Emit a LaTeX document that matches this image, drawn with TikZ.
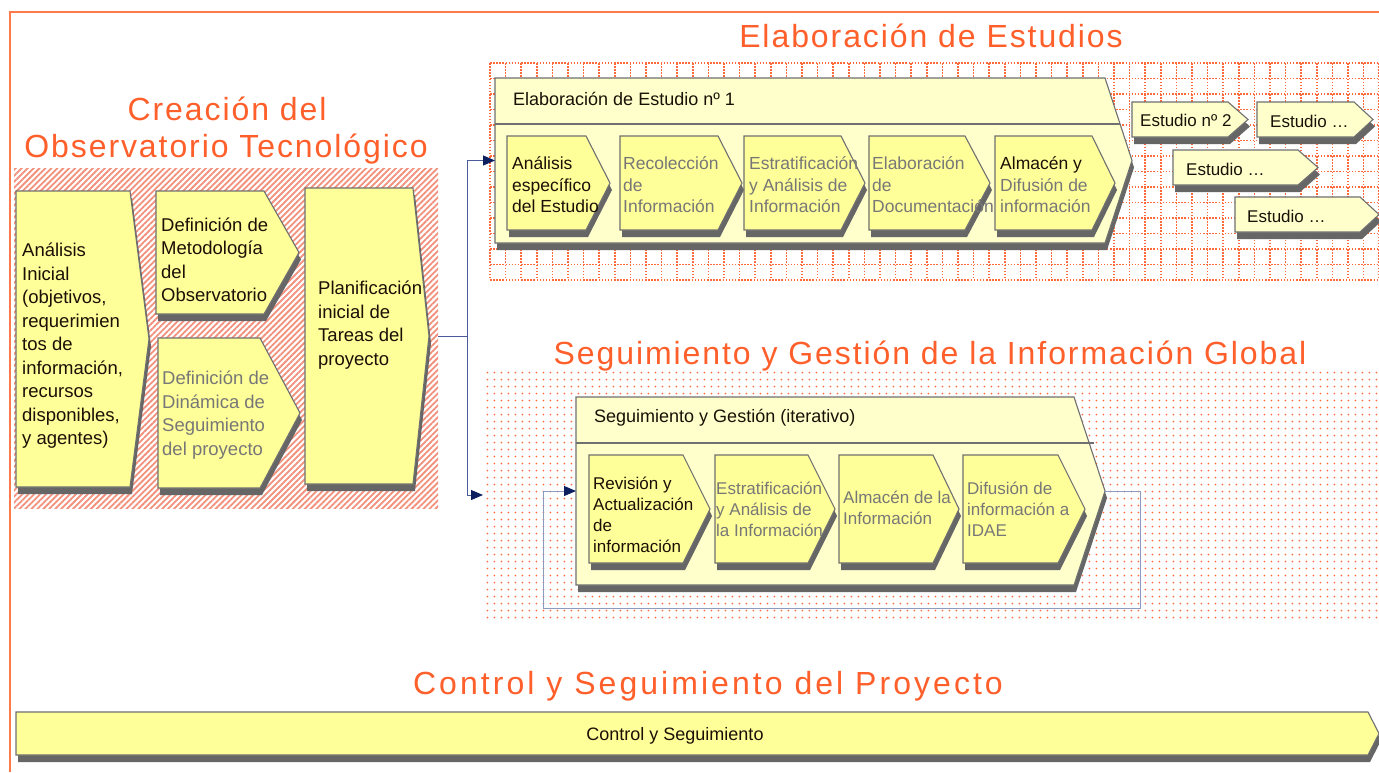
\documentclass[tikz,border=0pt]{standalone}
\usepackage{fontspec}
\setmainfont{Liberation Sans}
\newfontfamily\titlefont[LetterSpace=6]{Liberation Sans}
\newfontfamily\titlefontw[LetterSpace=9.5]{Liberation Sans}
\usetikzlibrary{arrows.meta,patterns.meta,calc}
\definecolor{yel}{HTML}{FFFF99}
\definecolor{lyel}{HTML}{FFFFCC}
\definecolor{bord}{HTML}{707070}
\definecolor{shad}{HTML}{666666}
\definecolor{ttl}{HTML}{FF5F2A}
\definecolor{framec}{HTML}{FF7A4A}
\definecolor{hatchc}{HTML}{F2907C}
\definecolor{dotc}{HTML}{FF6A3A}
\definecolor{blk}{HTML}{1A1006}
\definecolor{gry}{HTML}{777777}
\definecolor{lnc}{HTML}{4A5A9A}
\definecolor{arc}{HTML}{0C2060}
\definecolor{loopc}{HTML}{8C9BBF}
% chevron box: [fill]{name}{x left}{y top}{x top-right}{x point}{y bottom}
\newcommand\chev[7][yel]{%
  \pgfmathsetmacro\cmid{(#4+#7)/2}%
  \fill[shad] (#3+2,#4+7) -- (#5+2,#4+7) -- (#6+2,\cmid+7) -- (#5+2,#7+7) -- (#3+2,#7+7) -- cycle;
  \filldraw[fill=#1, draw=bord, line width=1.1pt] (#3,#4) -- (#5,#4) -- (#6,\cmid) -- (#5,#7) -- (#3,#7) -- cycle;
  \coordinate (#2-w) at (#3,\cmid);
  \coordinate (#2-e) at (#6,\cmid);
}
\tikzset{
  ta/.style={anchor=west, inner sep=0pt, align=left, font=\fontsize{18.5}{23.5}\selectfont, text=blk},
  tb/.style={anchor=west, inner sep=0pt, align=left, font=\fontsize{17.5}{21.5}\selectfont, text=blk},
  tc/.style={anchor=west, inner sep=0pt, align=left, font=\fontsize{17}{21}\selectfont, text=blk},
  th/.style={anchor=west, inner sep=0pt, font=\fontsize{18}{22}\selectfont, text=blk},
  te/.style={anchor=west, inner sep=0pt, font=\fontsize{17}{21}\selectfont, text=blk},
  gtext/.style={text=gry},
  ttlstyle/.style={anchor=base, inner sep=0pt, text=ttl, font=\titlefont\fontsize{32}{38}\selectfont},
  conn/.style={draw=lnc, line width=1pt},
  arrowtip/.style={-{Triangle[length=12pt,width=10pt,color=arc]}},
  loopl/.style={draw=loopc, line width=1pt},
  gridl/.style={draw=dotc, line width=1.5pt, dash pattern=on 1.5pt off 1.6pt},
}
\begin{document}
\begin{tikzpicture}[x=1pt,y=-1pt]
\useasboundingbox (0,0) rectangle (1379,772);
\fill[white] (0,0) rectangle (1379,772);
% outer frame
\draw[draw=framec, line width=1.5pt] (10,772) -- (10,12) -- (1379,12);
% backgrounds
\fill[pattern={Lines[angle=45,distance=4.2pt,line width=1.8pt]}, pattern color=hatchc] (14,168) rectangle (438,508);
\foreach \k in {0,...,14} \draw[gridl] (490,{63+15.5*\k}) -- (1379,{63+15.5*\k});
\foreach \k in {0,...,57} \draw[gridl] ({490+15.6*\k},63) -- ({490+15.6*\k},280);
\fill[pattern={Dots[distance=7.4pt,radius=1.05pt]}, pattern color=dotc] (483,370) rectangle (1379,620);
% titles
\node[ttlstyle] (t1a) at (227,120) {Creación del};
\node[ttlstyle] (t1b) at (226,157) {Observatorio Tecnológico};
\node[ttlstyle] (t2) at (931,47) {Elaboración de Estudios};
\node[ttlstyle] (t3) at (930,364) {Seguimiento y Gestión de la Información Global};
\node[ttlstyle, font=\titlefontw\fontsize{32}{38}\selectfont] (t4) at (708,694) {Control y Seguimiento del Proyecto};
% Creacion boxes
\chev{ana}{16}{191}{130}{149}{487}
\node[ta] (anat) at (22,346) {Análisis\\Inicial\\(objetivos,\\requerimien\\tos de\\información,\\recursos\\disponibles,\\y agentes)};
\chev{defm}{156}{191}{264}{299}{314}
\node[ta] (defmt) at (161,260) {Definición de\\Metodología\\del\\Observatorio};
\chev{defd}{158}{338}{260}{300}{488}
\node[ta, gtext] (defdt) at (162,415) {Definición de\\Dinámica de\\Seguimiento\\del proyecto};
\chev{plan}{305}{188}{413}{429}{484}
\node[ta] (plant) at (318,325) {Planificación\\inicial de\\Tareas del\\proyecto};
% Elaboracion
\chev[lyel]{elab}{495}{78}{1105}{1132}{243}
\draw[draw=bord, line width=1.1pt] (495,124) -- (1120,124);
\node[th] (elabt) at (513,99) {Elaboración de Estudio nº 1};
\chev{e1}{507}{136}{586}{610}{230}
\node[tb] (e1t) at (512,185) {Análisis\\específico\\del Estudio};
\chev{e2}{620}{136}{718}{742}{230}
\node[tb, gtext] (e2t) at (623,185) {Recolección\\de\\Información};
\chev{e3}{744}{136}{841}{865}{230}
\node[tb, gtext] (e3t) at (749,185) {Estratificación\\y Análisis de\\Información};
\chev{e4}{869}{136}{965}{990}{230}
\node[tb, gtext] (e4t) at (872,185) {Elaboración\\de\\Documentación};
\chev{e5}{995}{136}{1092}{1115}{230}
\node[tb, gtext] (e5t) at (1000,185) {{\color{blk}Almacén y}\\Difusión de\\información};
% Estudio boxes
\chev[lyel]{st2}{1132}{102}{1228}{1248}{137}
\node[te] (st2t) at (1140,120) {Estudio nº 2};
\chev[lyel]{st3}{1257}{102}{1354}{1373}{137}
\node[te] (st3t) at (1270,121) {Estudio …};
\chev[lyel]{st4}{1173}{150}{1298}{1318}{185}
\node[te] (st4t) at (1186,169) {Estudio …};
\chev[lyel]{st5}{1235}{197}{1360}{1379}{232}
\node[te] (st5t) at (1247,216) {Estudio …};
% Seguimiento
\chev[lyel]{seg}{576}{397}{1074}{1105}{585}
\draw[draw=bord, line width=1.1pt] (576,443) -- (1094,443);
\node[th] (segt) at (594,418) {Seguimiento y Gestión (iterativo)};
\chev{s1}{589}{455}{683}{710}{563}
\node[tc] (s1t) at (593,515) {Revisión y\\Actualización\\de\\información};
\chev{s2}{715}{455}{808}{835}{563}
\node[tc, gtext] (s2t) at (716,509) {Estratificación\\y Análisis de\\la Información};
\chev{s3}{839}{455}{933}{959}{563}
\node[tc, gtext] (s3t) at (843,508) {Almacén de la\\Información};
\chev{s4}{963}{455}{1058}{1085}{563}
\node[tc, gtext] (s4t) at (967,509) {Difusión de\\información a\\IDAE};
% connectors
\path (plan-e) ++(38,0) coordinate (split);
\coordinate (segin) at (483,495);
\draw[conn] ($(plan-e)+(9,0)$) -- (split);
\draw[conn, arrowtip] (split) |- (elab-w);
\draw[conn, arrowtip] (split) |- (segin);
\draw[loopl, arrowtip] (seg-e) -- ++(35,0) -- ++(0,117) -| ($(seg-w)+(-33,0)$) -- (seg-w);
% Control bar
\chev{ctl}{16}{712}{1368}{1379}{755}
\node[th, anchor=center] (ctlt) at (675,736) {Control y Seguimiento};
\end{tikzpicture}
\end{document}
